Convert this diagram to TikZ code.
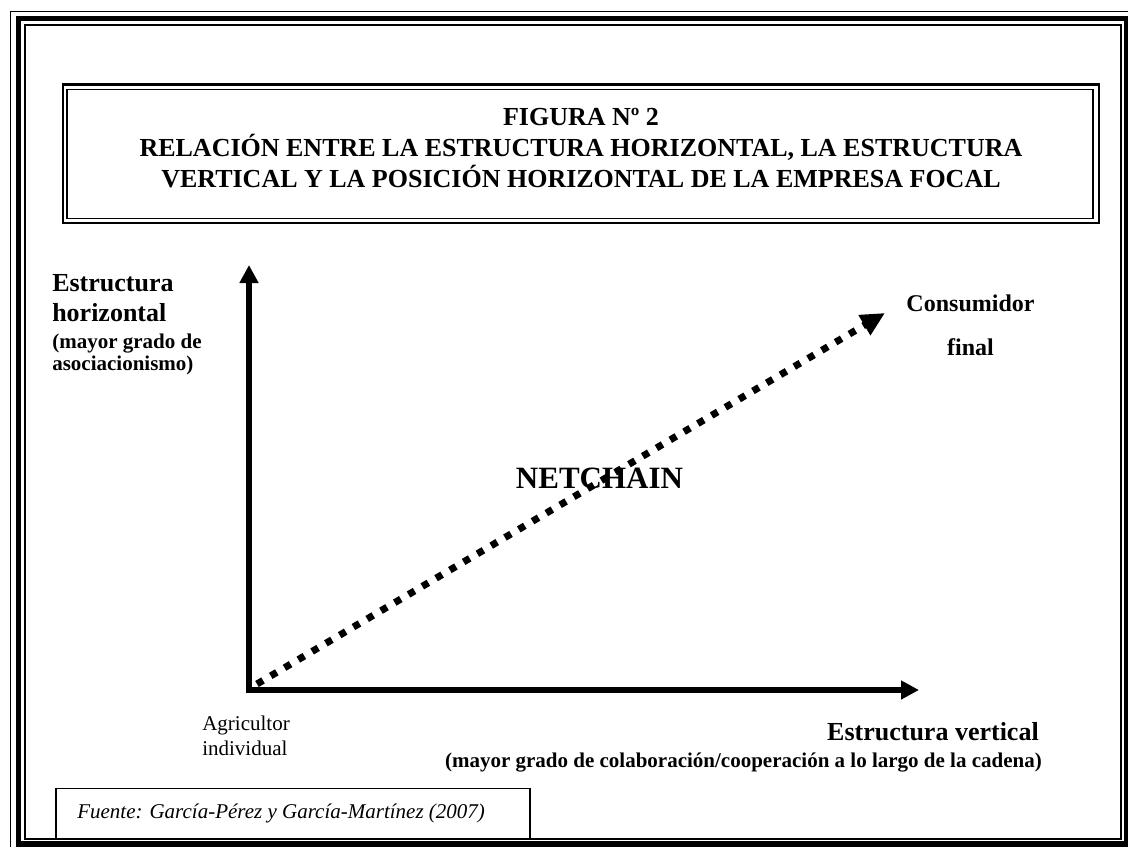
\documentclass[tikz,border=0pt]{standalone}
\usepackage{fontspec}
\setmainfont{Liberation Serif}
\usetikzlibrary{arrows.meta, positioning}

\begin{document}
\begin{tikzpicture}[x=0.75pt, y=-0.75pt,
    titulo/.style={font=\bfseries\fontsize{19.5}{23}\selectfont, anchor=base, inner sep=0pt},
    eje/.style={font=\bfseries\fontsize{19.5}{23}\selectfont, inner sep=0pt},
    nota/.style={font=\bfseries\fontsize{15.75}{18}\selectfont, inner sep=0pt},
    plano/.style={font=\fontsize{15.75}{18}\selectfont, anchor=base west, inner sep=0pt},
    axis/.style={line width=4.1pt, line join=miter,
      {Triangle[length=13.5pt, width=13.5pt]}-{Triangle[length=13.5pt, width=13.5pt]}},
    cadena/.style={line width=5.25pt, dash pattern=on 5.25pt off 6.75pt,
      -{Triangle[length=18pt, width=16.5pt]}}]
  \useasboundingbox (0,0) rectangle (1128,846);

  % Marco
  \draw[line width=1pt] (10.7,11.7) rectangle (1134,852);
  \draw[line width=4pt] (18.3,18.3) rectangle (1127,844);
  \draw[line width=1.5pt] (25.3,25.3) rectangle (1120.5,838.7);

  % Titulo
  \draw[line width=1.9pt] (62.8,84.5) rectangle (1099,223);
  \draw[line width=1.1pt] (67,89.5) rectangle (1093.2,218.3);
  \node[titulo] (fig) at (581,125) {FIGURA Nº 2};
  \node[titulo] (rel) at (581,156) {RELACIÓN ENTRE LA ESTRUCTURA HORIZONTAL, LA ESTRUCTURA};
  \node[titulo] (pos) at (581,187) {VERTICAL Y LA POSICIÓN HORIZONTAL DE LA EMPRESA FOCAL};

  % Ejes
  \coordinate (O) at (249,690);
  \coordinate (ytop) at (249,265);
  \coordinate (xend) at (919,690);
  \draw[axis] (ytop) -- (O) -- (xend);

  % Netchain
  \coordinate (inicio) at (257,684);
  \coordinate (consumo) at (885,313);
  \draw[cadena] (inicio) -- (consumo);
  \node[font=\bfseries\fontsize{23.25}{26}\selectfont, anchor=base, inner sep=0pt] (net) at (599.5,488) {NETCHAIN};

  % Etiquetas
  \node[eje, anchor=base west] (estH) at (52,291) {Estructura};
  \node[eje, anchor=base west] (hor) at (52,321) {horizontal};
  \node[nota, anchor=base west] (asocA) at (52,348) {(mayor grado de};
  \node[nota, anchor=base west] (asocB) at (52,370) {asociacionismo)};
  \node[font=\bfseries\fontsize{18}{21}\selectfont, anchor=base, inner sep=0pt] (cons) at (970.5,311) {Consumidor};
  \node[font=\bfseries\fontsize{18}{21}\selectfont, anchor=base, inner sep=0pt] (fin) at (970.5,355) {final};
  \node[plano] (agri) at (202,730) {Agricultor};
  \node[plano] (ind) at (202,755) {individual};
  \node[eje, anchor=base east] (estV) at (1039,740) {Estructura vertical};
  \node[nota, anchor=base east] (colab) at (1042,767) {(mayor grado de colaboración/cooperación a lo largo de la cadena)};

  % Fuente
  \draw[line width=1.1pt] (55.8,838.7) |- (530,788.5) -- (530,838.7);
  \node[font=\itshape\fontsize{15.75}{18}\selectfont, anchor=base west, inner sep=0pt] (fuente) at (77,818) {Fuente: García-Pérez y García-Martínez (2007)};
\end{tikzpicture}
\end{document}
